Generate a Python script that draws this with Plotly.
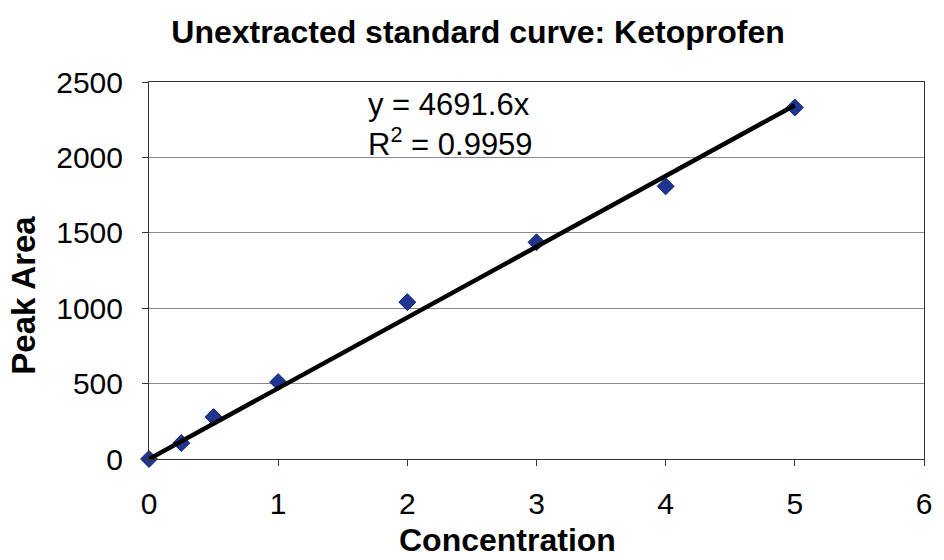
import plotly.graph_objects as go

# Standard concentrations and measured peak areas
concentration = [0, 0.25, 0.5, 1, 2, 3, 4, 5]
peak_area = [0, 106, 278, 510, 1040, 1437, 1808, 2331]

# Trendline label text
equation_text = "y = 4691.6x"
r2_text = "R<sup>2</sup> = 0.9959"

# Least-squares line through the origin, drawn over the measured range
sxy = sum(a * b for a, b in zip(concentration, peak_area))
sxx = sum(a * a for a in concentration)
slope = sxy / sxx
fit_x = [0, max(concentration)]
fit_y = [slope * v for v in fit_x]

FONT = "Liberation Sans, Arial, sans-serif"

fig = go.Figure()

fig.add_trace(go.Scatter(
    x=concentration, y=peak_area, mode="markers",
    marker=dict(symbol="diamond", size=13, color="#1f3590",
                line=dict(color="#0d1f70", width=1)),
    cliponaxis=False, showlegend=False,
))
fig.add_trace(go.Scatter(
    x=fit_x, y=fit_y, mode="lines",
    line=dict(color="black", width=4.5),
    cliponaxis=False, hoverinfo="skip", showlegend=False,
))

fig.add_annotation(
    x=1.68, y=2480, xref="x", yref="y",
    xanchor="left", yanchor="top", align="left",
    text=f"{equation_text}<br>{r2_text}",
    showarrow=False,
    font=dict(family=FONT, size=31, color="black"),
)

# Axis titles
fig.add_annotation(
    x=-0.163, y=0.435, xref="paper", yref="paper",
    xanchor="center", yanchor="middle", textangle=-90,
    text="<b>Peak Area</b>", showarrow=False,
    font=dict(family=FONT, size=33, color="black"),
)
fig.add_annotation(
    x=0.463, y=-0.215, xref="paper", yref="paper",
    xanchor="center", yanchor="middle",
    text="<b>Concentration</b>", showarrow=False,
    font=dict(family=FONT, size=32, color="black"),
)

fig.update_layout(
    width=944, height=560,
    margin=dict(l=149, r=15, t=82, b=101),
    paper_bgcolor="white", plot_bgcolor="white",
    title=dict(
        text="<b>Unextracted standard curve: Ketoprofen</b>",
        x=478 / 944, xanchor="center",
        y=1 - 32 / 560, yanchor="middle",
        font=dict(family=FONT, size=32, color="black"),
    ),
    xaxis=dict(
        range=[0, 6], dtick=1, tick0=0,
        showgrid=False, zeroline=False,
        showline=True, linecolor="#333333", linewidth=1, mirror=True,
        ticks="outside", ticklen=6, tickcolor="#333333",
        ticklabelstandoff=12,
        tickfont=dict(family=FONT, size=30, color="black"),
    ),
    yaxis=dict(
        range=[0, 2500], dtick=500, tick0=0,
        showgrid=True, gridcolor="#8a8a8a", gridwidth=1,
        zeroline=False,
        showline=True, linecolor="#333333", linewidth=1, mirror=True,
        ticks="outside", ticklen=6, tickcolor="#333333",
        ticklabelstandoff=13,
        tickfont=dict(family=FONT, size=30, color="black"),
    ),
)

fig.write_html("out.html")
